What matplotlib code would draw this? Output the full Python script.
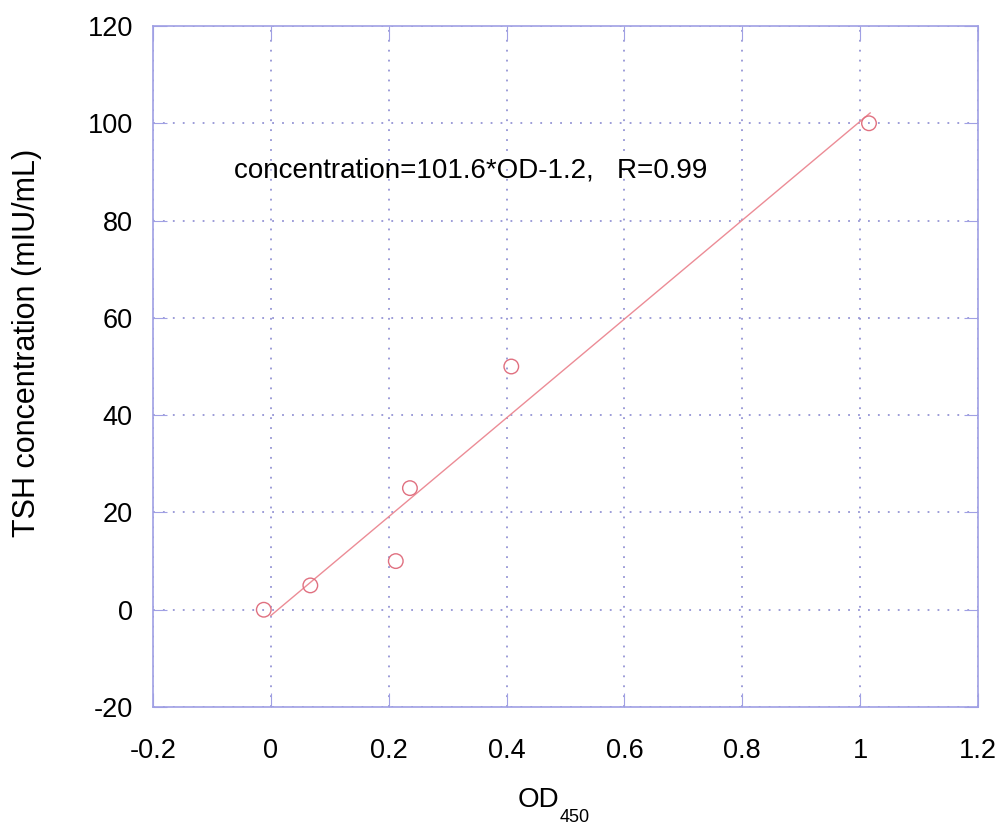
import matplotlib.pyplot as plt
import numpy as np

plt.rcParams['font.family'] = ['Liberation Sans', 'DejaVu Sans']

od = [-0.012, 0.067, 0.212, 0.236, 0.408, 1.015]
conc = [0, 5, 10, 25, 50, 100]
slope = 101.6
intercept = -1.2
fit_x = [0.0, 1.017]

xticks = [-0.2, 0, 0.2, 0.4, 0.6, 0.8, 1, 1.2]
xticklabels = ['-0.2', '0', '0.2', '0.4', '0.6', '0.8', '1', '1.2']
yticks = [-20, 0, 20, 40, 60, 80, 100, 120]
yticklabels = ['-20', '0', '20', '40', '60', '80', '100', '120']

blue = '#a0a0e4'
grid_blue = '#9494d4'
red = '#e07080'

fig = plt.figure(figsize=(10, 8.25), dpi=100)
ax = fig.add_axes([0.153, 0.143, 0.825, 0.8255])

fx = np.array(fit_x)
ax.plot(fx, slope * fx + intercept, color='#ec8c96', lw=1.0)
ax.scatter(od, conc, s=110, facecolors='none', edgecolors=red, linewidths=1.0, zorder=3)

ax.set_xlim(-0.2, 1.2)
ax.set_ylim(-20, 120)
ax.set_xticks(xticks)
ax.set_xticklabels(xticklabels)
ax.set_yticks(yticks)
ax.set_yticklabels(yticklabels)
ax.grid(True, color=grid_blue, linestyle=(0, (1, 4.5)), lw=1.3)
for s in ax.spines.values():
    s.set_color(blue)
    s.set_linewidth(1.2)
ax.tick_params(direction='in', length=10, color=blue, top=True, right=True,
               labelsize=19.5)
ax.tick_params(axis='x', pad=22)
ax.tick_params(axis='y', pad=14.5)

ax.text(-0.062, 90.2, 'concentration=101.6*OD-1.2,   R=0.99', fontsize=20, va='center')

# axis labels
fig.text(0.538, 1 - 800 / 825, 'OD', fontsize=20, ha='center', va='center')
fig.text(0.560, 1 - 817 / 825, '450', fontsize=13, ha='left', va='center')
fig.text(0.027, 0.584, 'TSH concentration (mIU/mL)', fontsize=22,
         rotation=90, ha='center', va='center')

fig.savefig('out.png')
